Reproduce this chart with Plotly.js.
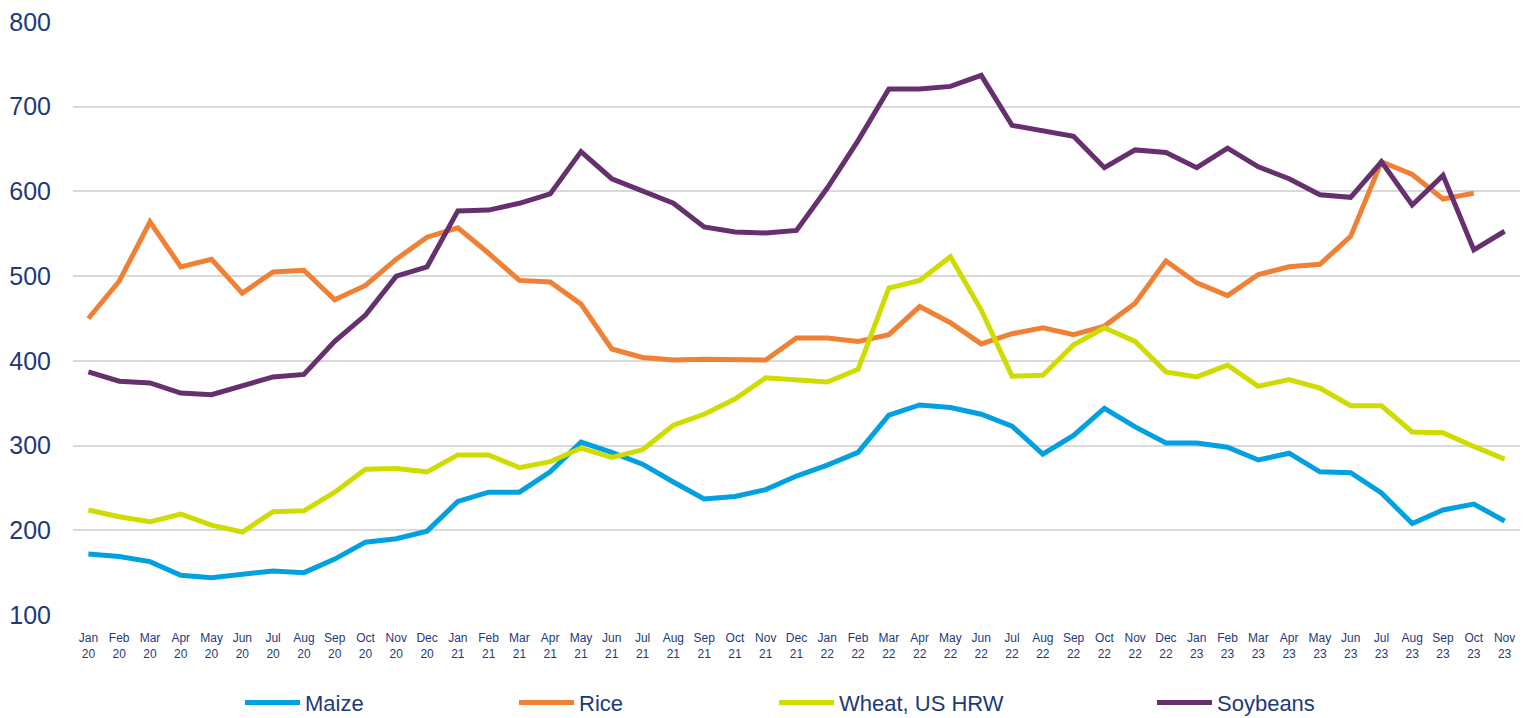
<!DOCTYPE html>
<html>
<head>
<meta charset="utf-8">
<script src="https://cdn.plot.ly/plotly-3.0.1.min.js"></script>
<style>html,body{margin:0;padding:0;background:#fff;}#chart{width:1531px;height:718px;}</style>
</head>
<body>
<div id="chart"></div>
<script>
const months = ["Jan","Feb","Mar","Apr","May","Jun","Jul","Aug","Sep","Oct","Nov","Dec"];
const categories = [];
for (let y = 20; y <= 23; y++) {
  for (let m = 0; m < 12; m++) {
    if (y === 23 && m > 10) break;
    categories.push(months[m] + "<br>" + y);
  }
}

const maize = [172,169,163,147,144,148,152,150,166,186,190,199,
  234,245,245,269,304,292,278,257,237,240,248,264,
  277,292,336,348,345,337,323,290,312,344,322,303,
  303,298,283,291,269,268,244,208,224,231,211];

const rice = [450,494,564,511,520,480,505,507,472,489,520,546,
  557,527,495,493,467,414,404,401,402,401,401,427,
  427,423,431,464,445,420,432,439,431,441,468,518,
  492,477,502,511,514,547,635,620,591,598,null];

const wheat = [224,216,210,219,206,198,222,223,245,272,273,269,
  289,289,274,281,297,286,295,324,337,355,380,377,
  375,390,486,495,523,460,382,383,419,439,423,387,
  381,395,370,378,368,347,347,316,315,299,284];

const soybeans = [387,376,374,362,360,370,381,384,423,454,500,511,
  577,578,586,597,647,615,601,586,558,552,551,554,
  604,660,721,721,724,737,678,672,665,628,649,646,
  628,651,629,615,596,593,635,584,619,531,553];

const seriesNames = ["Maize","Rice","Wheat, US HRW","Soybeans"];
const seriesData = [maize, rice, wheat, soybeans];
const seriesColors = ["#00a0e1","#f08033","#cfdc00","#66306f"];
const legendIds = ["legend","legend2","legend3","legend4"];
const legendX = [246, 520, 780, 1158];

const textColor = "#1f3a78";
const plotL = 73, plotR = 11, W = 1531;
const plotW = W - plotL - plotR;

const traces = seriesData.map((d, i) => ({
  type: "scatter",
  mode: "lines",
  name: seriesNames[i],
  x: categories,
  y: d,
  line: {color: seriesColors[i], width: 5, shape: "linear"},
  legend: legendIds[i],
  hoverinfo: "x+y+name"
}));

const layout = {
  width: 1531,
  height: 718,
  margin: {l: plotL, r: plotR, t: 22, b: 103, autoexpand: false},
  paper_bgcolor: "#ffffff",
  plot_bgcolor: "#ffffff",
  font: {family: "Liberation Sans, Arial, sans-serif", color: textColor},
  showlegend: true,
  xaxis: {
    type: "category",
    range: [-0.5, 46.5],
    showgrid: false,
    zeroline: false,
    showline: false,
    ticks: "",
    tickfont: {size: 12, color: textColor},
    tickangle: 0,
    ticklabelstandoff: 14
  },
  yaxis: {
    range: [100, 800],
    tickvals: [100,200,300,400,500,600,700,800],
    showgrid: true,
    gridcolor: "#d9d9d9",
    gridwidth: 1.5,
    zeroline: false,
    showline: false,
    ticks: "",
    tickfont: {size: 25, color: textColor},
    ticklabelstandoff: 21
  }
};

legendIds.forEach((id, i) => {
  layout[id] = {
    orientation: "h",
    x: (legendX[i] - plotL - 6) / plotW,
    xanchor: "left",
    y: -0.148,
    yanchor: "middle",
    itemwidth: 55,
    font: {size: 22, color: textColor, family: "Liberation Sans, Arial, sans-serif"},
    bgcolor: "rgba(0,0,0,0)"
  };
});

Plotly.newPlot("chart", traces, layout, {displayModeBar: false, responsive: false});
</script>
</body>
</html>
